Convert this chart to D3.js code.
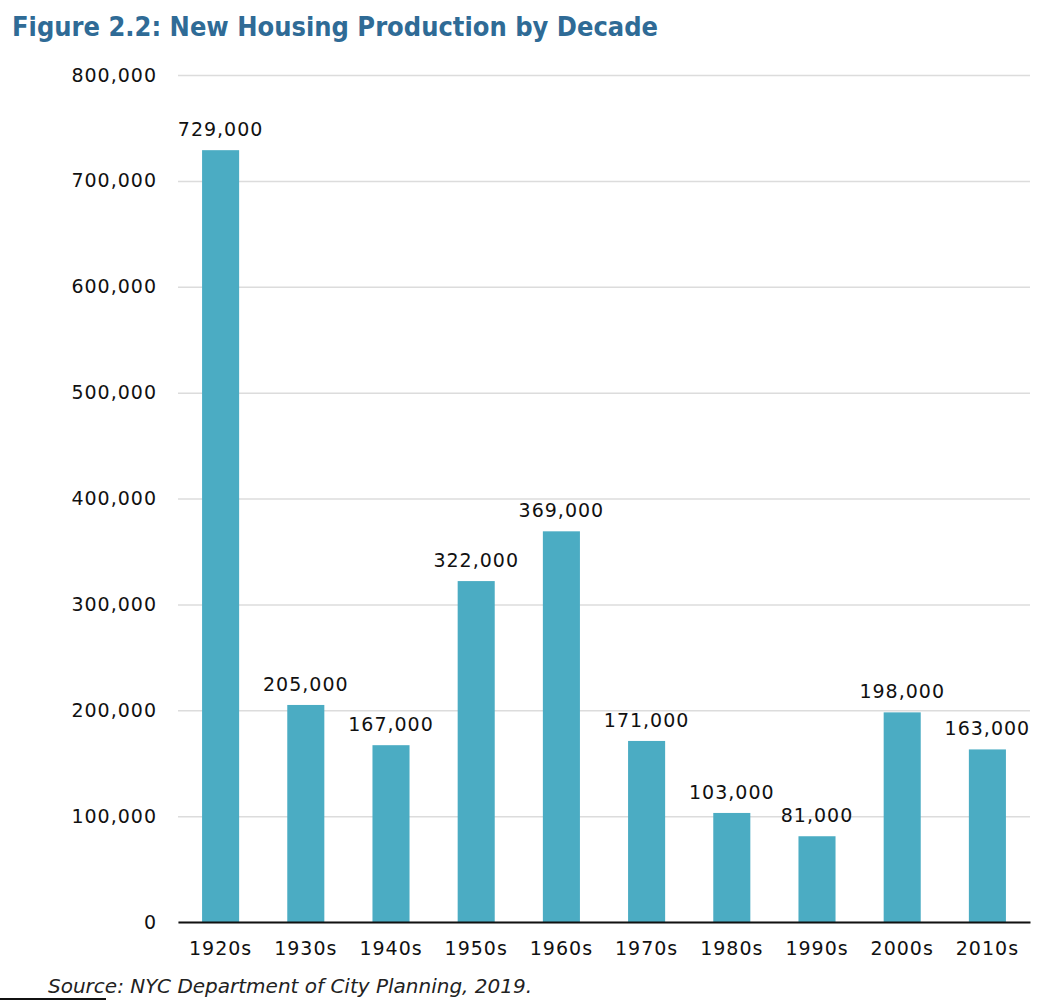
<!DOCTYPE HTML>
<html lang="en">
<head>
  <meta charset="utf-8">
  <title>New Housing Production by Decade</title>
  <script src="https://d3js.org/d3.v7.min.js"></script>
  <style>
    body { margin: 0; background: #fff; }
    text { font-family: "DejaVu Sans", sans-serif; fill: #111; }
  </style>
</head>
<body>
<div id="stage"></div>
<script>
  var decades = ["1920s", "1930s", "1940s", "1950s", "1960s", "1970s", "1980s", "1990s", "2000s", "2010s"];
  var units = [729000, 205000, 167000, 322000, 369000, 171000, 103000, 81000, 198000, 163000];
  var yTicks = [0, 100000, 200000, 300000, 400000, 500000, 600000, 700000, 800000];

  var svg = d3.select("#stage").append("svg").attr("width", 1056).attr("height", 1002);

  var x = d3.scaleBand().domain(decades).range([178, 1030]).paddingInner(0.565).paddingOuter(0.2825);
  var y = d3.scaleLinear().domain([0, 800000]).range([922, 75]);
  var fmt = d3.format(",");

  // title
  svg.append("text").attr("x", 12).attr("y", 36)
    .attr("textLength", 646).attr("lengthAdjust", "spacingAndGlyphs")
    .style("font-family", "'DejaVu Sans Condensed', 'DejaVu Sans', sans-serif")
    .style("font-stretch", "condensed")
    .style("font-weight", "bold").style("font-size", "27px").style("fill", "#2f6b96")
    .text("Figure 2.2: New Housing Production by Decade");

  // grid
  var yAxis = svg.append("g").attr("transform", "translate(178,0)")
    .call(d3.axisLeft(y).tickValues(yTicks).tickFormat(fmt).tickSize(-852).tickPadding(21));
  yAxis.select(".domain").remove();
  yAxis.selectAll(".tick line").attr("stroke", "#dcdcdc").attr("stroke-width", 1.5);
  yAxis.selectAll(".tick text").style("font-size", "19px").style("letter-spacing", "1px")
    .style("font-family", "'DejaVu Sans', sans-serif").attr("fill", "#111");

  // bars
  svg.selectAll("rect.bar").data(units).enter().append("rect").attr("class", "bar")
    .attr("x", function(d, i) { return x(decades[i]); })
    .attr("width", x.bandwidth())
    .attr("y", function(d) { return y(d); })
    .attr("height", function(d) { return y(0) - y(d); })
    .attr("fill", "#4bacc3");

  // value labels
  svg.selectAll("text.val").data(units).enter().append("text").attr("class", "val")
    .attr("x", function(d, i) { return x(decades[i]) + x.bandwidth() / 2; })
    .attr("y", function(d) { return y(d) - 14; })
    .attr("text-anchor", "middle")
    .style("font-size", "19px").style("letter-spacing", "1px")
    .text(function(d) { return fmt(d); });

  // baseline + x axis
  var xAxis = svg.append("g").attr("transform", "translate(0,922)")
    .call(d3.axisBottom(x).tickSize(0).tickPadding(20));
  xAxis.select(".domain").attr("stroke", "#111").attr("stroke-width", 2);
  xAxis.selectAll(".tick text").style("font-size", "19px").style("letter-spacing", "1px")
    .style("font-family", "'DejaVu Sans', sans-serif").attr("fill", "#111");

  // source
  svg.append("text").attr("x", 48).attr("y", 993)
    .style("font-style", "italic").style("font-size", "20px").style("fill", "#222")
    .text("Source: NYC Department of City Planning, 2019.");
  svg.append("line").attr("x1", 0).attr("x2", 106).attr("y1", 999).attr("y2", 999)
    .attr("stroke", "#111").attr("stroke-width", 2);
</script>
</body>
</html>
